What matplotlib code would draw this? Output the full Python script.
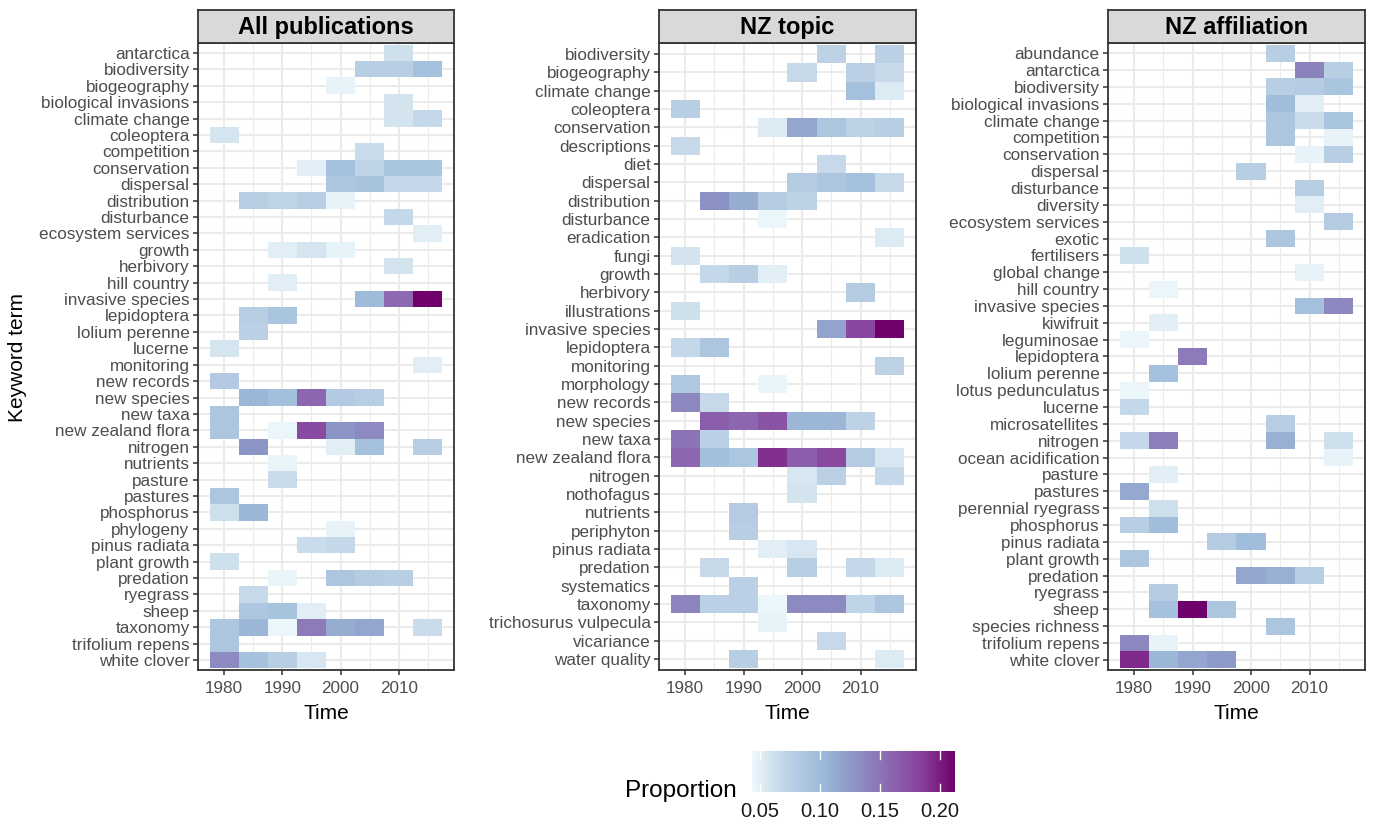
import numpy as np
import matplotlib
matplotlib.use("Agg")
import matplotlib.pyplot as plt
from matplotlib.colors import LinearSegmentedColormap, Normalize
from matplotlib.cm import ScalarMappable

plt.rcParams['font.family'] = ['Liberation Sans', 'DejaVu Sans']

# ---------------- data ----------------
years = [1980, 1985, 1990, 1995, 2000, 2005, 2010, 2015]
year_ticks = [1980, 1990, 2000, 2010]

titles = ["All publications", "NZ topic", "NZ affiliation"]

all_terms = ["antarctica", "biodiversity", "biogeography", "biological invasions",
             "climate change", "coleoptera", "competition", "conservation", "dispersal",
             "distribution", "disturbance", "ecosystem services", "growth", "herbivory",
             "hill country", "invasive species", "lepidoptera", "lolium perenne", "lucerne",
             "monitoring", "new records", "new species", "new taxa", "new zealand flora",
             "nitrogen", "nutrients", "pasture", "pastures", "phosphorus", "phylogeny",
             "pinus radiata", "plant growth", "predation", "ryegrass", "sheep", "taxonomy",
             "trifolium repens", "white clover"]
all_cells = [
    ("antarctica", 2010, 0.062),
    ("biodiversity", 2005, 0.078), ("biodiversity", 2010, 0.078), ("biodiversity", 2015, 0.093),
    ("biogeography", 2000, 0.047),
    ("biological invasions", 2010, 0.059),
    ("climate change", 2010, 0.059), ("climate change", 2015, 0.068),
    ("coleoptera", 1980, 0.058),
    ("competition", 2005, 0.065),
    ("conservation", 1995, 0.051), ("conservation", 2000, 0.093), ("conservation", 2005, 0.071),
    ("conservation", 2010, 0.090), ("conservation", 2015, 0.090),
    ("dispersal", 2000, 0.088), ("dispersal", 2005, 0.091), ("dispersal", 2010, 0.068),
    ("dispersal", 2015, 0.068),
    ("distribution", 1985, 0.078), ("distribution", 1990, 0.072), ("distribution", 1995, 0.078),
    ("distribution", 2000, 0.047),
    ("disturbance", 2010, 0.068),
    ("ecosystem services", 2015, 0.051),
    ("growth", 1990, 0.051), ("growth", 1995, 0.058), ("growth", 2000, 0.048),
    ("herbivory", 2010, 0.059),
    ("hill country", 1990, 0.051),
    ("invasive species", 2005, 0.100), ("invasive species", 2010, 0.157),
    ("invasive species", 2015, 0.2125),
    ("lepidoptera", 1985, 0.078), ("lepidoptera", 1990, 0.090),
    ("lolium perenne", 1985, 0.075),
    ("lucerne", 1980, 0.058),
    ("monitoring", 2015, 0.051),
    ("new records", 1980, 0.082),
    ("new species", 1985, 0.104), ("new species", 1990, 0.096), ("new species", 1995, 0.159),
    ("new species", 2000, 0.082), ("new species", 2005, 0.078),
    ("new taxa", 1980, 0.0875),
    ("new zealand flora", 1980, 0.0875), ("new zealand flora", 1990, 0.045),
    ("new zealand flora", 1995, 0.178), ("new zealand flora", 2000, 0.128),
    ("new zealand flora", 2005, 0.136),
    ("nitrogen", 1985, 0.128), ("nitrogen", 2000, 0.051), ("nitrogen", 2005, 0.093),
    ("nitrogen", 2015, 0.078),
    ("nutrients", 1990, 0.046),
    ("pasture", 1990, 0.065),
    ("pastures", 1980, 0.0875),
    ("phosphorus", 1980, 0.062), ("phosphorus", 1985, 0.104),
    ("phylogeny", 2000, 0.047),
    ("pinus radiata", 1995, 0.065), ("pinus radiata", 2000, 0.068),
    ("plant growth", 1980, 0.062),
    ("predation", 1990, 0.046), ("predation", 2000, 0.0875), ("predation", 2005, 0.081),
    ("predation", 2010, 0.078),
    ("ryegrass", 1985, 0.067),
    ("sheep", 1985, 0.086), ("sheep", 1990, 0.091), ("sheep", 1995, 0.051),
    ("taxonomy", 1980, 0.086), ("taxonomy", 1985, 0.104), ("taxonomy", 1990, 0.045),
    ("taxonomy", 1995, 0.146), ("taxonomy", 2000, 0.112), ("taxonomy", 2005, 0.116),
    ("taxonomy", 2015, 0.065),
    ("trifolium repens", 1980, 0.0875),
    ("white clover", 1980, 0.136), ("white clover", 1985, 0.093), ("white clover", 1990, 0.078),
    ("white clover", 1995, 0.057),
]

topic_terms = ["biodiversity", "biogeography", "climate change", "coleoptera", "conservation",
               "descriptions", "diet", "dispersal", "distribution", "disturbance",
               "eradication", "fungi", "growth", "herbivory", "illustrations",
               "invasive species", "lepidoptera", "monitoring", "morphology", "new records",
               "new species", "new taxa", "new zealand flora", "nitrogen", "nothofagus",
               "nutrients", "periphyton", "pinus radiata", "predation", "systematics",
               "taxonomy", "trichosurus vulpecula", "vicariance", "water quality"]
topic_cells = [
    ("biodiversity", 2005, 0.073), ("biodiversity", 2015, 0.075),
    ("biogeography", 2000, 0.067), ("biogeography", 2010, 0.075), ("biogeography", 2015, 0.067),
    ("climate change", 2010, 0.095), ("climate change", 2015, 0.054),
    ("coleoptera", 1980, 0.078),
    ("conservation", 1995, 0.054), ("conservation", 2000, 0.116), ("conservation", 2005, 0.087),
    ("conservation", 2010, 0.073), ("conservation", 2015, 0.078),
    ("descriptions", 1980, 0.067),
    ("diet", 2005, 0.067),
    ("dispersal", 2000, 0.081), ("dispersal", 2005, 0.087), ("dispersal", 2010, 0.095),
    ("dispersal", 2015, 0.067),
    ("distribution", 1985, 0.131), ("distribution", 1990, 0.112), ("distribution", 1995, 0.081),
    ("distribution", 2000, 0.073),
    ("disturbance", 1995, 0.045),
    ("eradication", 2015, 0.054),
    ("fungi", 1980, 0.059),
    ("growth", 1985, 0.068), ("growth", 1990, 0.078), ("growth", 1995, 0.050),
    ("herbivory", 2010, 0.081),
    ("illustrations", 1980, 0.062),
    ("invasive species", 2005, 0.118), ("invasive species", 2010, 0.180),
    ("invasive species", 2015, 0.2125),
    ("lepidoptera", 1980, 0.068), ("lepidoptera", 1985, 0.087),
    ("monitoring", 2015, 0.073),
    ("morphology", 1980, 0.085), ("morphology", 1995, 0.046),
    ("new records", 1980, 0.138), ("new records", 1985, 0.067),
    ("new species", 1985, 0.165), ("new species", 1990, 0.159), ("new species", 1995, 0.172),
    ("new species", 2000, 0.104), ("new species", 2005, 0.104), ("new species", 2010, 0.073),
    ("new taxa", 1980, 0.151), ("new taxa", 1985, 0.075),
    ("new zealand flora", 1980, 0.159), ("new zealand flora", 1985, 0.096),
    ("new zealand flora", 1990, 0.087), ("new zealand flora", 1995, 0.192),
    ("new zealand flora", 2000, 0.165), ("new zealand flora", 2005, 0.179),
    ("new zealand flora", 2010, 0.081), ("new zealand flora", 2015, 0.057),
    ("nitrogen", 2000, 0.057), ("nitrogen", 2005, 0.075), ("nitrogen", 2015, 0.068),
    ("nothofagus", 2000, 0.059),
    ("nutrients", 1990, 0.081),
    ("periphyton", 1990, 0.078),
    ("pinus radiata", 1995, 0.051), ("pinus radiata", 2000, 0.057),
    ("predation", 1985, 0.067), ("predation", 2000, 0.078), ("predation", 2010, 0.068),
    ("predation", 2015, 0.054),
    ("systematics", 1990, 0.075),
    ("taxonomy", 1980, 0.140), ("taxonomy", 1985, 0.075), ("taxonomy", 1990, 0.075),
    ("taxonomy", 1995, 0.044), ("taxonomy", 2000, 0.136), ("taxonomy", 2005, 0.136),
    ("taxonomy", 2010, 0.071), ("taxonomy", 2015, 0.087),
    ("trichosurus vulpecula", 1995, 0.047),
    ("vicariance", 2005, 0.067),
    ("water quality", 1990, 0.078), ("water quality", 2015, 0.054),
]

affil_terms = ["abundance", "antarctica", "biodiversity", "biological invasions",
               "climate change", "competition", "conservation", "dispersal", "disturbance",
               "diversity", "ecosystem services", "exotic", "fertilisers", "global change",
               "hill country", "invasive species", "kiwifruit", "leguminosae", "lepidoptera",
               "lolium perenne", "lotus pedunculatus", "lucerne", "microsatellites",
               "nitrogen", "ocean acidification", "pasture", "pastures", "perennial ryegrass",
               "phosphorus", "pinus radiata", "plant growth", "predation", "ryegrass", "sheep",
               "species richness", "trifolium repens", "white clover"]
affil_cells = [
    ("abundance", 2005, 0.078),
    ("antarctica", 2010, 0.141), ("antarctica", 2015, 0.078),
    ("biodiversity", 2005, 0.078), ("biodiversity", 2010, 0.081), ("biodiversity", 2015, 0.090),
    ("biological invasions", 2005, 0.098), ("biological invasions", 2010, 0.051),
    ("climate change", 2005, 0.0875), ("climate change", 2010, 0.065),
    ("climate change", 2015, 0.090),
    ("competition", 2005, 0.0875), ("competition", 2015, 0.047),
    ("conservation", 2010, 0.047), ("conservation", 2015, 0.078),
    ("dispersal", 2000, 0.078),
    ("disturbance", 2010, 0.078),
    ("diversity", 2010, 0.051),
    ("ecosystem services", 2015, 0.081),
    ("exotic", 2005, 0.0875),
    ("fertilisers", 1980, 0.062),
    ("global change", 2010, 0.047),
    ("hill country", 1985, 0.045),
    ("invasive species", 2010, 0.095), ("invasive species", 2015, 0.138),
    ("kiwifruit", 1985, 0.050),
    ("leguminosae", 1980, 0.045),
    ("lepidoptera", 1990, 0.146),
    ("lolium perenne", 1985, 0.093),
    ("lotus pedunculatus", 1980, 0.045),
    ("lucerne", 1980, 0.068),
    ("microsatellites", 2005, 0.078),
    ("nitrogen", 1980, 0.068), ("nitrogen", 1985, 0.144), ("nitrogen", 2005, 0.109),
    ("nitrogen", 2015, 0.062),
    ("ocean acidification", 2015, 0.047),
    ("pasture", 1985, 0.050),
    ("pastures", 1980, 0.114),
    ("perennial ryegrass", 1985, 0.062),
    ("phosphorus", 1980, 0.078), ("phosphorus", 1985, 0.098),
    ("pinus radiata", 1995, 0.081), ("pinus radiata", 2000, 0.098),
    ("plant growth", 1980, 0.0875),
    ("predation", 2000, 0.116), ("predation", 2005, 0.109), ("predation", 2010, 0.078),
    ("ryegrass", 1985, 0.081),
    ("sheep", 1985, 0.093), ("sheep", 1990, 0.2125), ("sheep", 1995, 0.0875),
    ("species richness", 2005, 0.0875),
    ("trifolium repens", 1980, 0.138), ("trifolium repens", 1985, 0.047),
    ("white clover", 1980, 0.194), ("white clover", 1985, 0.104), ("white clover", 1990, 0.116),
    ("white clover", 1995, 0.125),
]

legend_ticks = [0.05, 0.10, 0.15, 0.20]

# ---------------- styling ----------------
W, H = 1375, 823
bupu7 = ["#edf8fb", "#bfd3e6", "#9ebcda", "#8c96c6", "#8c6bb1", "#88419d", "#6e016b"]
cmap = LinearSegmentedColormap.from_list("bupu", bupu7, N=512)
all_vals = [c[2] for c in all_cells + topic_cells + affil_cells]
norm = Normalize(vmin=0.0433, vmax=max(all_vals))

GRID = "#ebebeb"
DARK = "#333333"
TXT = "#4d4d4d"


def px_rect(l, t, r, b):
    return [l / W, 1 - b / H, (r - l) / W, (b - t) / H]


panel_x = [(198, 454), (659, 916), (1108, 1365)]
panel_top, panel_bot = 43, 670
strip_top = 10

fig = plt.figure(figsize=(W / 100, H / 100), dpi=100)

panels = [(all_terms, all_cells), (topic_terms, topic_cells), (affil_terms, affil_cells)]
x_edges = np.array(years + [years[-1] + 5]) - 2.5

for (terms, cells), (l, r), title in zip(panels, panel_x, titles):
    ax = fig.add_axes(px_rect(l, panel_top, r, panel_bot))
    n = len(terms)
    Z = np.full((n, len(years)), np.nan)
    for term, yr, v in cells:
        Z[terms.index(term), years.index(yr)] = v
    y_edges = np.arange(n + 1) - 0.5
    ax.pcolormesh(x_edges, y_edges, np.ma.masked_invalid(Z), cmap=cmap, norm=norm,
                  shading="flat", zorder=2)
    ax.set_xlim(1975.5, 2019.5)
    ax.set_ylim(n - 1 + 0.6, -0.6)
    ax.set_xticks(year_ticks)
    ax.set_xticks(years[1::2], minor=True)
    ax.set_yticks(range(n))
    ax.set_yticklabels(terms)
    ax.grid(True, which="major", color=GRID, lw=1.5, zorder=0)
    ax.grid(True, which="minor", axis="x", color=GRID, lw=0.8, zorder=0)
    ax.set_axisbelow(True)
    ax.tick_params(which="major", length=3.5, width=1.1, color=DARK, labelcolor=TXT,
                   labelsize=12.3, pad=2.5)
    ax.tick_params(axis="x", which="major", pad=4.5)
    ax.tick_params(which="minor", length=0)
    for sp in ax.spines.values():
        sp.set_color(DARK)
        sp.set_linewidth(1.3)
    ax.set_xlabel("Time", fontsize=15, color="#000000", labelpad=5.5)

    sax = fig.add_axes(px_rect(l, strip_top, r, panel_top))
    sax.set_facecolor("#d9d9d9")
    sax.set_xticks([])
    sax.set_yticks([])
    for sp in sax.spines.values():
        sp.set_color(DARK)
        sp.set_linewidth(1.3)
    sax.text(0.5, 0.47, title, ha="center", va="center", fontsize=17, fontweight="bold",
             color="#000000", transform=sax.transAxes)

fig.text(18 / W, 1 - 357 / H, "Keyword term", rotation=90, ha="center", va="center",
         fontsize=15, color="#000000")

# ---------------- colourbar legend ----------------
cax = fig.add_axes(px_rect(752, 751, 955, 792))
sm = ScalarMappable(norm=norm, cmap=cmap)
cb = fig.colorbar(sm, cax=cax, orientation="horizontal")
cb.outline.set_visible(False)
cb.set_ticks(legend_ticks)
cb.set_ticklabels(["%.2f" % t for t in legend_ticks])
cax.tick_params(length=0, labelsize=14.5, pad=7, labelcolor="#1a1a1a")
for t in legend_ticks:
    cax.axvline(t, ymin=0, ymax=0.2, color="white", lw=1)
    cax.axvline(t, ymin=0.8, ymax=1, color="white", lw=1)

fig.text(737 / W, 1 - 797 / H, "Proportion", ha="right", va="baseline", fontsize=17.5,
         color="#000000")

fig.savefig("out.png", dpi=100)
